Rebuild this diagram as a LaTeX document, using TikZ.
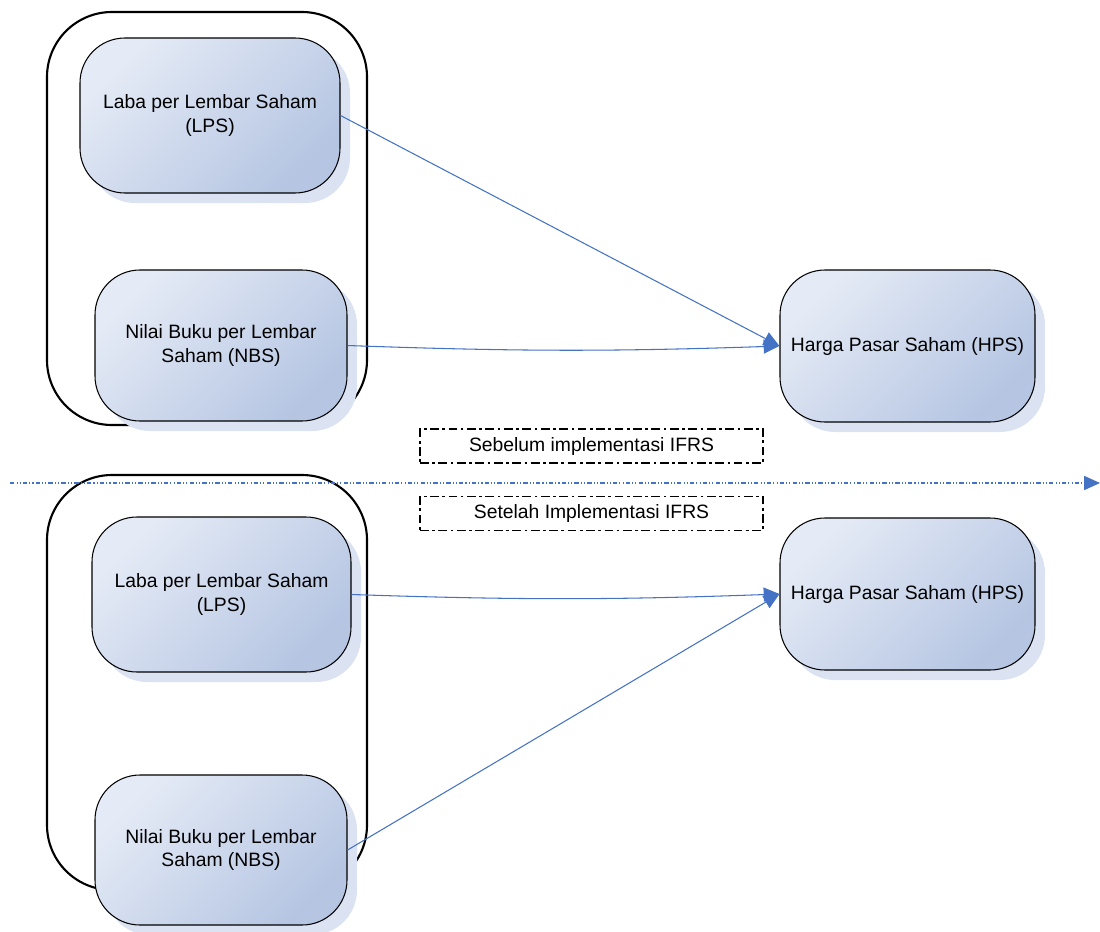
\documentclass[tikz,border=0pt]{standalone}
\usepackage{fontspec}
\setmainfont{Liberation Sans}
\usetikzlibrary{arrows.meta,shadows}
\definecolor{boxleft}{RGB}{229,235,246}
\definecolor{boxright}{RGB}{181,197,226}
\definecolor{shadowblue}{RGB}{219,227,242}
\definecolor{linkblue}{RGB}{68,114,196}
\begin{document}
\begin{tikzpicture}[>={Triangle[length=9pt,width=8pt]},
    varbox/.style={draw=black,line width=0.6pt,rounded corners=0.9cm,
        top color=boxleft,bottom color=boxright,shading angle=45,align=center,
        font=\fontsize{11}{13.6}\selectfont,
        general shadow={fill=shadowblue,shadow xshift=0.2cm,shadow yshift=-0.2cm}},
    link/.style={->,draw=linkblue,line width=0.6pt},
    period/.style={draw,line width=0.8pt,dash pattern=on 5pt off 2pt on 1.5pt off 2pt,
        minimum width=6.86cm,minimum height=0.68cm,font=\fontsize{11}{13}\selectfont}]
\useasboundingbox (0,0) rectangle (22,-18.62);
% groups
\draw[line width=1.2pt,rounded corners=1.3cm] (0.94,-0.24) rectangle (7.34,-8.5);
\draw[line width=1.2pt,rounded corners=1.3cm] (0.94,-9.5) rectangle (7.34,-17.8);
% before IFRS
\node[varbox,minimum width=5.2cm,minimum height=3.1cm] (lps1) at (4.2,-2.31) {Laba per Lembar Saham\\(LPS)};
\node[varbox,minimum width=5.04cm,minimum height=3.02cm] (nbs1) at (4.42,-6.91) {Nilai Buku per Lembar\\Saham (NBS)};
\node[varbox,minimum width=5.1cm,minimum height=3.04cm] (hps1) at (18.15,-6.92) {Harga Pasar Saham (HPS)};
% after IFRS
\node[varbox,minimum width=5.18cm,minimum height=3.1cm] (lps2) at (4.43,-11.89) {Laba per Lembar Saham\\(LPS)};
\node[varbox,minimum width=5.04cm,minimum height=3.0cm] (nbs2) at (4.42,-17.0) {Nilai Buku per Lembar\\Saham (NBS)};
\node[varbox,minimum width=5.1cm,minimum height=3.04cm] (hps2) at (18.15,-11.88) {Harga Pasar Saham (HPS)};
% period labels
\node[period] (before) at (11.83,-8.92) {Sebelum implementasi IFRS};
\node[period] (after) at (11.83,-10.27) {Setelah Implementasi IFRS};
\coordinate (splitL) at (0.2,-9.66);
\coordinate (splitR) at (22,-9.66);
\draw[->,linkblue,line width=0.6pt,dash pattern=on 2.5pt off 1.2pt on 0.6pt off 1.2pt on 0.6pt off 1.2pt] (splitL)--(splitR);
% links
\draw[link] (lps1.east)--(hps1.west);
\draw[link] (nbs1.east) to[bend right=2] (hps1.west);
\draw[link] (lps2.east) to[bend right=2] (hps2.west);
\draw[link] (nbs2.east)--(hps2.west);
\end{tikzpicture}
\end{document}
